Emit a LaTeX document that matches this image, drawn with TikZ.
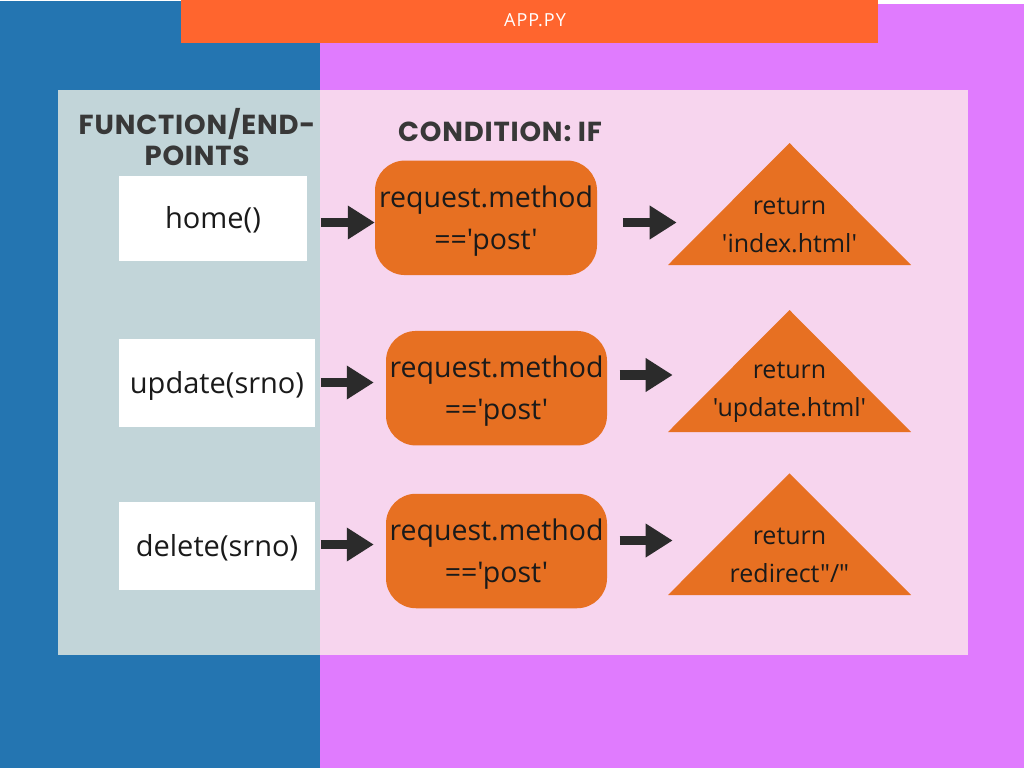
\documentclass[tikz,border=0pt]{standalone}
\usepackage{fontspec}
\newfontfamily\bodyfont{Open Sans}
\newfontfamily\headfont{Poppins}[LetterSpace=3]
\newfontfamily\barfont{Open Sans}[LetterSpace=6]
\usetikzlibrary{arrows.meta}
\definecolor{bgblue}{HTML}{2475B1}
\definecolor{bgpurple}{HTML}{E07BFE}
\definecolor{barorange}{HTML}{FF652E}
\definecolor{panelgrey}{HTML}{C2D5D9}
\definecolor{panelpink}{HTML}{F7D5EE}
\definecolor{shapeorange}{HTML}{E77022}
\definecolor{headgrey}{HTML}{383838}
\definecolor{arrowgrey}{HTML}{2B2B2B}
\definecolor{textblack}{HTML}{1A1A1A}
\begin{document}
\begin{tikzpicture}[x=1pt,y=-1pt,
  funcbox/.style={fill=white, inner sep=0pt, text=textblack, text depth=1pt,
    font=\bodyfont\fontsize{29}{34}\selectfont},
  condbox/.style={fill=shapeorange, rounded corners=30pt, inner sep=0pt,
    minimum width=221pt, minimum height=114.5pt, align=center, text=textblack,
    text depth=1pt, font=\bodyfont\fontsize{28.5}{42}\selectfont},
  rettri/.style={fill=shapeorange},
  rettext/.style={align=center, text=textblack, inner sep=0pt,
    font=\bodyfont\fontsize{25}{38}\selectfont},
  flowarrow/.style={draw=arrowgrey, line width=9.5pt,
    -{Triangle[length=27pt,width=32pt]}},
  heading/.style={font=\headfont\bfseries\fontsize{27.5}{30.7}\selectfont,
    text=headgrey, align=center, inner sep=0pt},
]
\useasboundingbox (0,0) rectangle (1024,768);
% background
\fill[white] (0,0) rectangle (1024,768);
\fill[bgblue] (0,1) rectangle (320,768);
\fill[bgpurple] (320,4) rectangle (1024,768);
\fill[barorange] (181,0) rectangle (878,42.7);
\node[text=white, font=\barfont\fontsize{18}{20}\selectfont] (title) at (535,20) {APP.PY};
% panel
\fill[panelgrey] (58,90) rectangle (320,655);
\fill[panelpink] (320,90) rectangle (968,655);
% headings
\node[heading] (hfunc) at (197,137) {FUNCTION/END-\\POINTS};
\node[heading] (hcond) at (500,131.5) {CONDITION: IF};
% function boxes
\node[funcbox, minimum width=188pt, minimum height=84.7pt] (f1) at (213,218.3) {home()};
\node[funcbox, minimum width=196pt, minimum height=88.3pt] (f2) at (217,383.2) {update(srno)};
\node[funcbox, minimum width=196pt, minimum height=87.7pt] (f3) at (217,546.2) {delete(srno)};
% condition boxes
\node[condbox, minimum width=222pt] (c1) at (486,217.8) {request.method\\=='post'};
\node[condbox] (c2) at (496.5,388.2) {request.method\\=='post'};
\node[condbox] (c3) at (496.5,551) {request.method\\=='post'};
% return triangles
\fill[rettri] (789.5,143) -- (911,265) -- (668,265) -- cycle;
\fill[rettri] (789.5,310) -- (911,432) -- (668,432) -- cycle;
\fill[rettri] (789.5,473.3) -- (911,595) -- (668,595) -- cycle;
\node[rettext] (r1) at (789.5,225.5) {return\\'index.html'};
\node[rettext] (r2) at (789.5,392) {return\\'update.html'};
\node[rettext] (r3) at (789.5,555) {return\\redirect"/"};
\coordinate (r1in) at (676.7,222.5);
\coordinate (r2in) at (672.7,375);
\coordinate (r3in) at (672.7,540.5);
% arrows
\draw[flowarrow, shorten <=13.7pt] ([yshift=-4.2pt]f1.east) -- ([yshift=-4.2pt]f1.east -| c1.west);
\draw[flowarrow, shorten <=5.7pt, shorten >=12pt] ([yshift=0.7pt]f2.east) -- ([yshift=0.7pt]f2.east -| c2.west);
\draw[flowarrow, shorten <=5.7pt, shorten >=12pt] ([yshift=1.7pt]f3.east) -- ([yshift=1.7pt]f3.east -| c3.west);
\draw[flowarrow, shorten <=25.7pt] (c1.east |- r1in) -- (r1in);
\draw[flowarrow, shorten <=12.3pt] (c2.east |- r2in) -- (r2in);
\draw[flowarrow, shorten <=12.3pt] (c3.east |- r3in) -- (r3in);
\end{tikzpicture}
\end{document}
